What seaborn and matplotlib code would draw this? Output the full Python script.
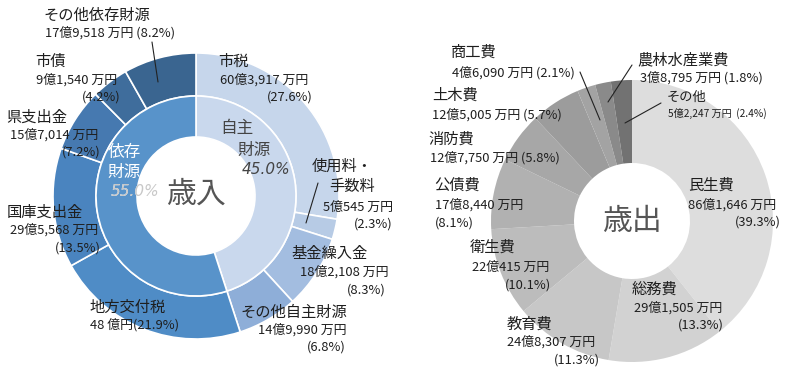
import matplotlib
matplotlib.use("Agg")
import matplotlib.pyplot as plt
import seaborn as sns
from matplotlib.patches import Circle

sns.set_theme(style="white")
plt.rcParams['font.family'] = ['Noto Sans CJK JP', 'DejaVu Sans']

# ---- 歳入 data ----
rev_cats = ["市税", "使用料・手数料", "基金繰入金", "その他自主財源",
            "地方交付税", "国庫支出金", "県支出金", "市債", "その他依存財源"]
rev_pct = [27.6, 2.3, 8.3, 6.8, 21.9, 13.5, 7.2, 4.2, 8.2]
rev_amount = ["60億3,917 万円", "5億545 万円", "18億2,108 万円", "14億9,990 万円",
              "48 億円", "29億5,568 万円", "15億7,014 万円", "9億1,540 万円", "17億9,518 万円"]
rev_group = ["自主財源", "依存財源"]
rev_group_pct = [45.0, 55.0]

# ---- 歳出 data ----
exp_cats = ["民生費", "総務費", "教育費", "衛生費", "公債費",
            "消防費", "土木費", "商工費", "農林水産業費", "その他"]
exp_pct = [39.3, 13.3, 11.3, 10.1, 8.1, 5.8, 5.7, 2.1, 1.8, 2.4]
exp_amount = ["86億1,646 万円", "29億1,505 万円", "24億8,307 万円", "22億415 万円",
              "17億8,440 万円", "12億7,750 万円", "12億5,005 万円", "4億6,090 万円",
              "3億8,795 万円", "5億2,247 万円"]

rev_colors = ["#c6d6eb", "#b7cbe5", "#a3bde0", "#8eaed8",
              "#4f8cc6", "#4a84bf", "#4679b0", "#3f6d9c", "#3a6590"]
rev_group_colors = ["#c9d8ed", "#5893ca"]
exp_colors = ["#dddddd", "#d2d2d2", "#c7c7c7", "#bcbcbc", "#b1b1b1",
              "#a7a7a7", "#9c9c9c", "#a3a3a3", "#8a8a8a", "#727272"]

W, H = 791, 373
fig = plt.figure(figsize=(W / 100, H / 100), dpi=100)
ax = fig.add_axes([0, 0, 1, 1])

def Y(y):
    return H - y

# left donut
lc = (196, Y(196))
ax.pie(rev_pct, radius=143, center=lc, startangle=90, counterclock=False,
       colors=rev_colors, wedgeprops=dict(width=43, edgecolor="white", linewidth=1.2))
ax.pie(rev_group_pct, radius=100, center=lc, startangle=90, counterclock=False,
       colors=rev_group_colors, wedgeprops=dict(width=41, edgecolor="white", linewidth=1.2))

# right donut
rc = (632, Y(221))
ax.pie(exp_pct, radius=141, center=rc, startangle=90, counterclock=False,
       colors=exp_colors, wedgeprops=dict(width=83, edgecolor="none", linewidth=0))

ax.set_xlim(0, W)
ax.set_ylim(0, H)
ax.set_aspect("equal")
ax.axis("off")

TXT = "#1e1e1e"
NS = 11     # name size
VS = 9.3    # value size

def lab(x, y, s, ha="left", size=VS, color=TXT, **kw):
    return ax.text(x, Y(y), s, ha=ha, va="center", fontsize=size, color=color, **kw)

# ---- left labels ----
lab(43, 15, rev_cats[8], size=NS)
lab(45, 33, f"{rev_amount[8]} ({rev_pct[8]}%)")
lab(35, 61, rev_cats[7], size=NS)
lab(36, 80, rev_amount[7])
lab(121, 97, f"({rev_pct[7]}%)", ha="right")
lab(6, 117, rev_cats[6], size=NS)
lab(10, 135, rev_amount[6])
lab(101, 152, f"({rev_pct[6]}%)", ha="right")
lab(7, 212, rev_cats[5], size=NS)
lab(10, 230, rev_amount[5])
lab(101, 248, f"({rev_pct[5]}%)", ha="right")
lab(89, 307, rev_cats[4], size=NS)
lab(90, 325, f"{rev_amount[4]}({rev_pct[4]}%)")
lab(347, 312, rev_cats[3], size=NS, ha="right")
lab(347, 330, rev_amount[3], ha="right")
lab(346, 347, f"({rev_pct[3]}%)", ha="right")
lab(368, 253, rev_cats[2], size=NS, ha="right")
lab(388, 272, rev_amount[2], ha="right")
lab(386, 290, f"({rev_pct[2]}%)", ha="right")
lab(312, 166, "使用料・", size=NS)
lab(329, 187, "手数料", size=NS)
lab(393, 207, rev_amount[1], ha="right")
lab(393, 224, f"({rev_pct[1]}%)", ha="right")
lab(218, 61, rev_cats[0], size=NS)
lab(220, 80, rev_amount[0])
lab(313, 97, f"({rev_pct[0]}%)", ha="right")

# leader lines (left)
ax.plot([152, 158], [Y(42), Y(82)], color="#222222", lw=0.8)
ax.plot([318, 306], [Y(183), Y(223)], color="#222222", lw=0.8)

# inner ring labels
PF = ["DejaVu Sans"]
lab(237, 128, "自主", size=12, ha="center", color="#444444")
lab(254, 150, "財源", size=12, ha="center", color="#444444")
lab(266, 170, f"{rev_group_pct[0]:.1f}%", size=11, ha="center", color="#444444",
    style="italic", family=PF)
lab(124, 153, "依存", size=12, ha="center", color="white")
lab(124, 172, "財源", size=12, ha="center", color="white")
lab(135, 191, f"{rev_group_pct[1]:.1f}%", size=11, ha="center", color="white",
    style="italic", family=PF)
t = lab(135, 191, f"{rev_group_pct[1]:.1f}%", size=11, ha="center", color="#c8c8c8",
        style="italic", family=PF)
clip = Circle(lc, 58.5, transform=ax.transData, facecolor="none", edgecolor="none")
ax.add_patch(clip)
t.set_clip_path(clip)

ax.text(lc[0], Y(194), "歳入", ha="center", va="center", fontsize=21.5,
        color="#555555")

# ---- right labels ----
lab(451, 52, exp_cats[7], size=NS)
lab(452, 73, f"{exp_amount[7]} ({exp_pct[7]}%)")
lab(637, 60, exp_cats[8], size=NS)
lab(640, 78, f"{exp_amount[8]} ({exp_pct[8]}%)")
lab(667, 97, exp_cats[9], size=9.5)
lab(668, 113, f"{exp_amount[9]}  ({exp_pct[9]}%)", size=7.3)
lab(432, 95, exp_cats[6], size=NS)
lab(432, 115, f"{exp_amount[6]} ({exp_pct[6]}%)")
lab(428, 139, exp_cats[5], size=NS)
lab(430, 158, f"{exp_amount[5]} ({exp_pct[5]}%)")
lab(434, 185, exp_cats[4], size=NS)
lab(435, 205, exp_amount[4])
lab(435, 223, f"({exp_pct[4]}%)")
lab(470, 247, exp_cats[3], size=NS)
lab(472, 267, exp_amount[3])
lab(551, 285, f"({exp_pct[3]}%)", ha="right")
lab(507, 324, exp_cats[2], size=NS)
lab(507, 342, exp_amount[2])
lab(600, 360, f"({exp_pct[2]}%)", ha="right")
lab(632, 289, exp_cats[1], size=NS)
lab(634, 308, exp_amount[1])
lab(724, 325, f"({exp_pct[1]}%)", ha="right")
lab(688, 185, exp_cats[0], size=NS)
lab(688, 205, exp_amount[0])
lab(781, 222, f"({exp_pct[0]}%)", ha="right")

# leader lines (right)
ax.plot([580, 600], [Y(72), Y(120)], color="#222222", lw=0.8)
ax.plot([632, 608], [Y(65), Y(102)], color="#222222", lw=0.8)
ax.plot([661, 625], [Y(103), Y(123)], color="#222222", lw=0.8)

ax.text(rc[0], Y(222), "歳出", ha="center", va="center", fontsize=21.5,
        color="#555555")

fig.savefig("out.png", dpi=100)
